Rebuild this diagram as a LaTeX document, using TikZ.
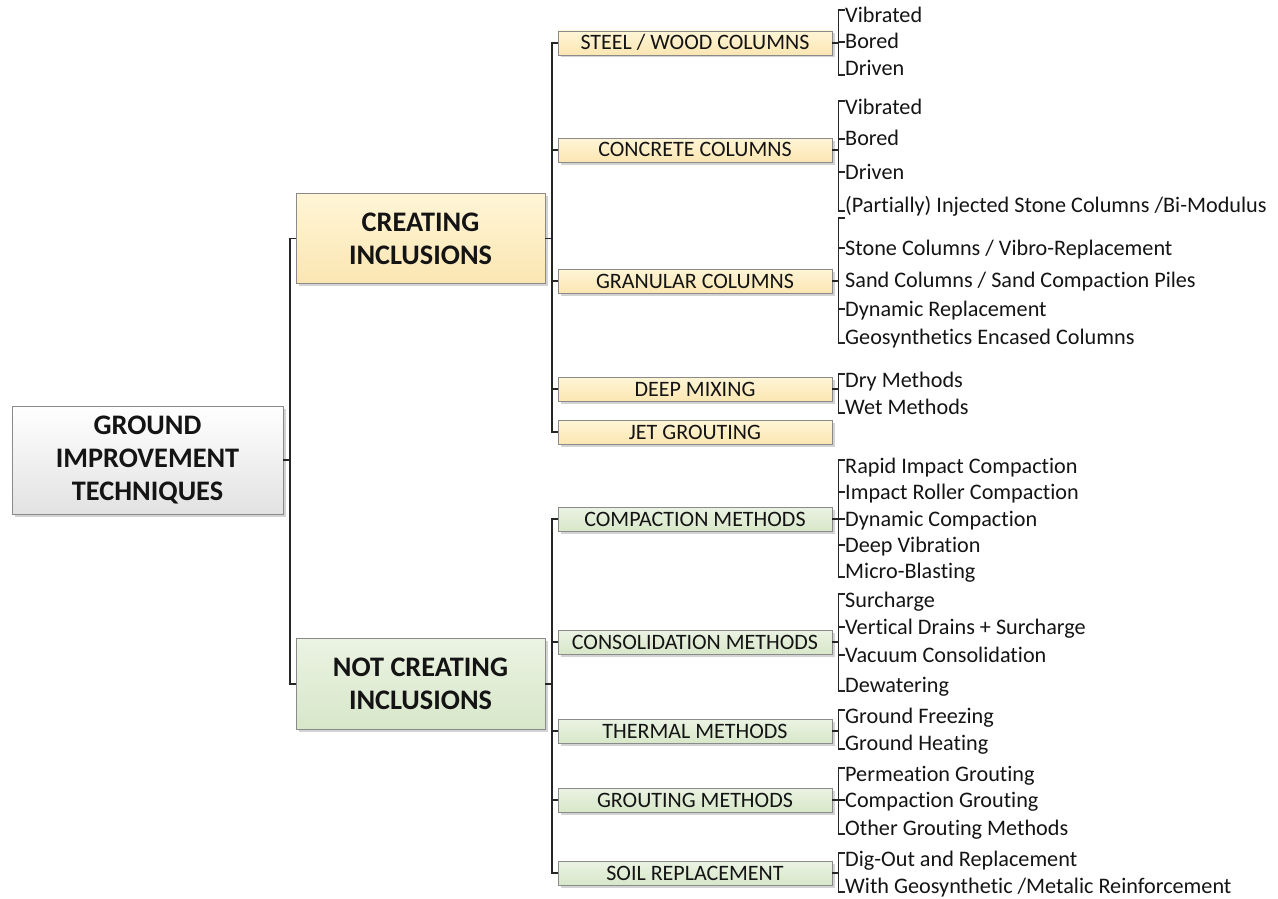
\documentclass[tikz,border=0pt]{standalone}
\usepackage{fontspec}
\setmainfont{Carlito}[Ligatures=NoCommon]
\usetikzlibrary{shadows}

\definecolor{boxedge}{HTML}{8A8A8A}
\definecolor{yelTop}{HTML}{FFF5D6}
\definecolor{yelBot}{HTML}{FBE6B2}
\definecolor{grnTop}{HTML}{EBF3E3}
\definecolor{grnBot}{HTML}{D7E7C9}
\definecolor{rootBot}{HTML}{E2E2E2}
\definecolor{wirecol}{HTML}{262626}
\definecolor{inkcol}{HTML}{141414}

\tikzset{
  box/.style={draw=boxedge, line width=0.8pt, inner sep=0pt, align=center,
    text=inkcol,
    drop shadow={shadow xshift=2.5pt, shadow yshift=-2.5pt, opacity=0.35}},
  bigtext/.style={font=\fontsize{28.3}{33}\selectfont\bfseries},
  rootbox/.style={box, bigtext, top color=white, bottom color=rootBot,
    minimum width=271pt, minimum height=108pt},
  mainY/.style={box, bigtext, top color=yelTop, bottom color=yelBot,
    minimum width=249pt, minimum height=90pt},
  mainG/.style={box, bigtext, top color=grnTop, bottom color=grnBot,
    minimum width=249pt, minimum height=91pt},
  cat/.style={box, minimum width=274pt, minimum height=24pt,
    font=\fontsize{22}{24}\selectfont, text height=14pt, text depth=0pt},
  catY/.style={cat, top color=yelTop, bottom color=yelBot},
  catG/.style={cat, top color=grnTop, bottom color=grnBot},
  leaf/.style={anchor=west, inner sep=0pt, text=inkcol,
    font=\fontsize{22.2}{26}\selectfont, text height=14pt, text depth=0pt},
  wire/.style={draw=wirecol, line width=1.4pt},
}

\begin{document}
\begin{tikzpicture}[x=1pt, y=-1pt]
\useasboundingbox (0,0) rectangle (1278,899);

% ---------- main boxes ----------
\node[rootbox] (root) at (147.5,460) {GROUND\\IMPROVEMENT\\TECHNIQUES};
\node[mainY] (ci)  at (420.5,238.5) {CREATING\\INCLUSIONS};
\node[mainG] (nci) at (420.5,684) {NOT CREATING\\INCLUSIONS};

\coordinate (j0) at (290,460);
\draw[wire] (root.east) -- (j0);
\draw[wire] (ci.west) -| (j0);
\draw[wire] (nci.west) -| (j0);

% ---------- categories ----------
\node[catY] (steel)  at (695,43)  {STEEL / WOOD COLUMNS};
\node[catY] (conc)   at (695,150) {CONCRETE COLUMNS};
\node[catY] (gran)   at (695,281) {GRANULAR COLUMNS};
\node[catY] (deep)   at (695,389) {DEEP MIXING};
\node[catY] (jet)    at (695,432) {JET GROUTING};

\node[catG] (compm)  at (695,519) {COMPACTION METHODS};
\node[catG] (consm)  at (695,642) {CONSOLIDATION METHODS};
\node[catG] (therm)  at (695,731) {THERMAL METHODS};
\node[catG] (groutm) at (695,800) {GROUTING METHODS};
\node[catG] (soil)   at (695,873) {SOIL REPLACEMENT};

\coordinate (s1) at (552,238.5);
\draw[wire] (ci.east) -- (s1);
\foreach \c in {steel,conc,gran,deep,jet} \draw[wire] (s1) |- (\c.west);
\coordinate (s2) at (552,684);
\draw[wire] (nci.east) -- (s2);
\foreach \c in {compm,consm,therm,groutm,soil} \draw[wire] (s2) |- (\c.west);

% ---------- leaves ----------
% steel / wood
\node[leaf] (a1) at (845,16) {Vibrated};
\node[leaf] (a2) at (845,42) {Bored};
\node[leaf] (a3) at (845,69) {Driven};
% concrete
\node[leaf] (b1) at (845,107) {Vibrated};
\node[leaf] (b2) at (845,139) {Bored};
\node[leaf] (b3) at (845,172) {Driven};
\node[leaf] (b4) at (845,205) {(Partially) Injected Stone Columns /Bi-Modulus};
% granular
\node[leaf] (c1) at (845,248) {Stone Columns / Vibro-Replacement};
\node[leaf] (c2) at (845,280) {Sand Columns / Sand Compaction Piles};
\node[leaf] (c3) at (845,309) {Dynamic Replacement};
\node[leaf] (c4) at (845,337) {Geosynthetics Encased Columns};
% deep mixing
\node[leaf] (d1) at (845,380) {Dry Methods};
\node[leaf] (d2) at (845,407) {Wet Methods};
% compaction
\node[leaf] (e1) at (845,466) {Rapid Impact Compaction};
\node[leaf] (e2) at (845,492) {Impact Roller Compaction};
\node[leaf] (e3) at (845,519) {Dynamic Compaction};
\node[leaf] (e4) at (845,545) {Deep Vibration};
\node[leaf] (e5) at (845,571) {Micro-Blasting};
% consolidation
\node[leaf] (f1) at (845,600) {Surcharge};
\node[leaf] (f2) at (845,627) {Vertical Drains + Surcharge};
\node[leaf] (f3) at (845,655) {Vacuum Consolidation};
\node[leaf] (f4) at (845,685) {Dewatering};
% thermal
\node[leaf] (g1) at (845,716) {Ground Freezing};
\node[leaf] (g2) at (845,743) {Ground Heating};
% grouting
\node[leaf] (h1) at (845,774) {Permeation Grouting};
\node[leaf] (h2) at (845,800) {Compaction Grouting};
\node[leaf] (h3) at (845,828) {Other Grouting Methods};
% soil replacement
\node[leaf] (k1) at (845,859) {Dig-Out and Replacement};
\node[leaf] (k2) at (845,886) {With Geosynthetic /Metalic Reinforcement};

% ---------- brackets ----------
\foreach \c/\f/\l/\mids in {steel/a1/a3/{a2},
                            conc/b1/b4/{b2,b3},
                            deep/d1/d2/{},
                            compm/e1/e5/{e2,e3,e4},
                            consm/f1/f4/{f2,f3},
                            therm/g1/g2/{},
                            groutm/h1/h3/{h2},
                            soil/k1/k2/{}} {
  \coordinate (\c-b) at ([xshift=6pt]\c.east);
  \draw[wire] (\c.east) -- (\c-b);
  \draw[wire] ([yshift=6pt]\f.west) -| (\c-b) |- ([yshift=-6pt]\l.west);
  \foreach \m in \mids \draw[wire] (\m.west) -- (\m.west -| \c-b);
}
% granular columns: open top corner above the first item
\coordinate (gran-b) at ([xshift=6pt]gran.east);
\draw[wire] (gran.east) -- (gran-b);
\draw[wire] ([yshift=30pt]c1.west) -| (gran-b) |- ([yshift=-6pt]c4.west);
\foreach \m in {c1,c3} \draw[wire] (\m.west) -- (\m.west -| gran-b);
\end{tikzpicture}
\end{document}
